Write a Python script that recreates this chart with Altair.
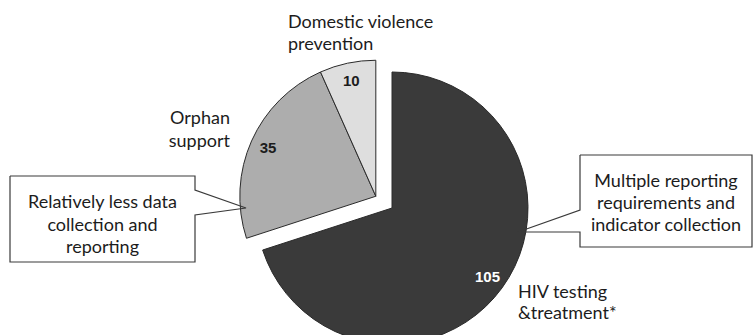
import math

import altair as alt
import pandas as pd

# Programme areas (clockwise from 12 o'clock) and their counts
areas = ["HIV testing\n&treatment*", "Orphan\nsupport", "Domestic violence\nprevention"]
counts = [105, 35, 10]

# Callout notes
note_text = [
    "Relatively less data\ncollection and\nreporting",
    "Multiple reporting\nrequirements and\nindicator collection",
]

# ---- layout and styling ----
W, H = 754, 335
CX, CY = 392, 208          # centre of the main slice
R = 136                    # pie radius
EXPLODE = 20               # pull-out distance of the smaller slices
VALUE_R = 118              # radius at which value labels sit
slice_fill = ["#3a3a3a", "#adadad", "#dedede"]
TEXT = "#1c1c1c"
LABEL_FONT = "Lato"

# category label anchors: (x, first baseline, align, line height)
area_label_pos = [
    (518, 298, "left", 21),
    (230, 124, "right", 23),
    (288, 28, "left", 21.5),
]

# callout boxes: (x0, y0, x1, y1), side of the pointer, pointer base span, pointer tip
callout_geom = [
    dict(box=(10, 176, 195, 262), side="right", base=(190, 215), tip=(246, 208),
         text_at=(102.5, 208), lh=22.5),
    dict(box=(580, 155, 752, 247), side="left", base=(210, 232), tip=(518, 232),
         text_at=(666, 187), lh=22),
]

# the smaller slices are pulled out together, along the bisector of their span
total = sum(counts)
small_start = 2 * math.pi * counts[0] / total
group_mid = (small_start + 2 * math.pi) / 2
shift_x = EXPLODE * math.sin(group_mid)
shift_y = -EXPLODE * math.cos(group_mid)

df = pd.DataFrame({"area": areas, "value": counts, "order": list(range(len(areas)))})

base = (
    alt.Chart(df)
    .transform_window(cum="sum(value)", sort=[alt.SortField("order")], frame=[None, 0])
    .transform_joinaggregate(total="sum(value)")
    .transform_calculate(
        start="2 * PI * (datum.cum - datum.value) / datum.total",
        end="2 * PI * datum.cum / datum.total",
    )
    .transform_calculate(
        mid="(datum.start + datum.end) / 2",
        cx=f"{CX} + (datum.order > 0 ? {shift_x} : 0)",
        cy=f"{CY} + (datum.order > 0 ? {shift_y} : 0)",
    )
    .transform_calculate(
        lx=f"datum.cx + {VALUE_R} * sin(datum.mid)",
        ly=f"datum.cy - {VALUE_R} * cos(datum.mid)",
    )
)

slices = base.mark_arc(outerRadius=R, stroke="#2a2a2a", strokeWidth=1).encode(
    x=alt.X("cx:Q", scale=None, axis=None),
    y=alt.Y("cy:Q", scale=None, axis=None),
    theta=alt.Theta("start:Q", scale=None),
    theta2=alt.Theta2("end:Q"),
    color=alt.Color("area:N", scale=alt.Scale(domain=areas, range=slice_fill), legend=None),
)

value_labels = base.mark_text(
    font="Liberation Sans", fontSize=15, fontWeight="bold", baseline="middle", align="center"
).encode(
    x=alt.X("lx:Q", scale=None, axis=None),
    y=alt.Y("ly:Q", scale=None, axis=None),
    text=alt.Text("value:Q"),
    color=alt.condition("datum.order == 0", alt.value("white"), alt.value(TEXT)),
)

layers = [slices, value_labels]

# category names outside the pie
for name, (lx, ly, al, lh) in zip(areas, area_label_pos):
    layers.append(
        alt.Chart(pd.DataFrame({"t": [name]}))
        .mark_text(
            font=LABEL_FONT, fontSize=18, color=TEXT, align=al, baseline="alphabetic",
            lineBreak="\n", lineHeight=lh,
        )
        .encode(x=alt.value(lx), y=alt.value(ly), text="t:N")
    )

# callout outlines (box with a wedge pointer)
rows = []
for k, g in enumerate(callout_geom):
    x0, y0, x1, y1 = g["box"]
    b0, b1 = g["base"]
    tx, ty = g["tip"]
    if g["side"] == "right":
        pts = [(x0, y0), (x1, y0), (x1, b0), (tx, ty), (x1, b1), (x1, y1), (x0, y1), (x0, y0)]
    else:
        pts = [(x0, y0), (x1, y0), (x1, y1), (x0, y1), (x0, b1), (tx, ty), (x0, b0), (x0, y0)]
    for i, (px, py) in enumerate(pts):
        rows.append({"c": k, "i": i, "px": px, "py": py})

outline = (
    alt.Chart(pd.DataFrame(rows))
    .mark_line(stroke="#3a3a3a", strokeWidth=1.2, strokeJoin="miter")
    .encode(
        x=alt.X("px:Q", scale=None, axis=None),
        y=alt.Y("py:Q", scale=None, axis=None),
        order=alt.Order("i:Q"),
        detail="c:N",
    )
)
layers.append(outline)

for txt, g in zip(note_text, callout_geom):
    nx, ny = g["text_at"]
    layers.append(
        alt.Chart(pd.DataFrame({"t": [txt]}))
        .mark_text(
            font=LABEL_FONT, fontSize=18, color=TEXT, align="center", baseline="alphabetic",
            lineBreak="\n", lineHeight=g["lh"],
        )
        .encode(x=alt.value(nx), y=alt.value(ny), text="t:N")
    )

chart = (
    alt.layer(*layers)
    .properties(width=W, height=H, autosize=alt.AutoSizeParams(type="none"), padding=0,
                background="white")
    .configure_view(stroke=None)
)

chart.save("out.html", embed_options={"renderer": "svg", "actions": False})
